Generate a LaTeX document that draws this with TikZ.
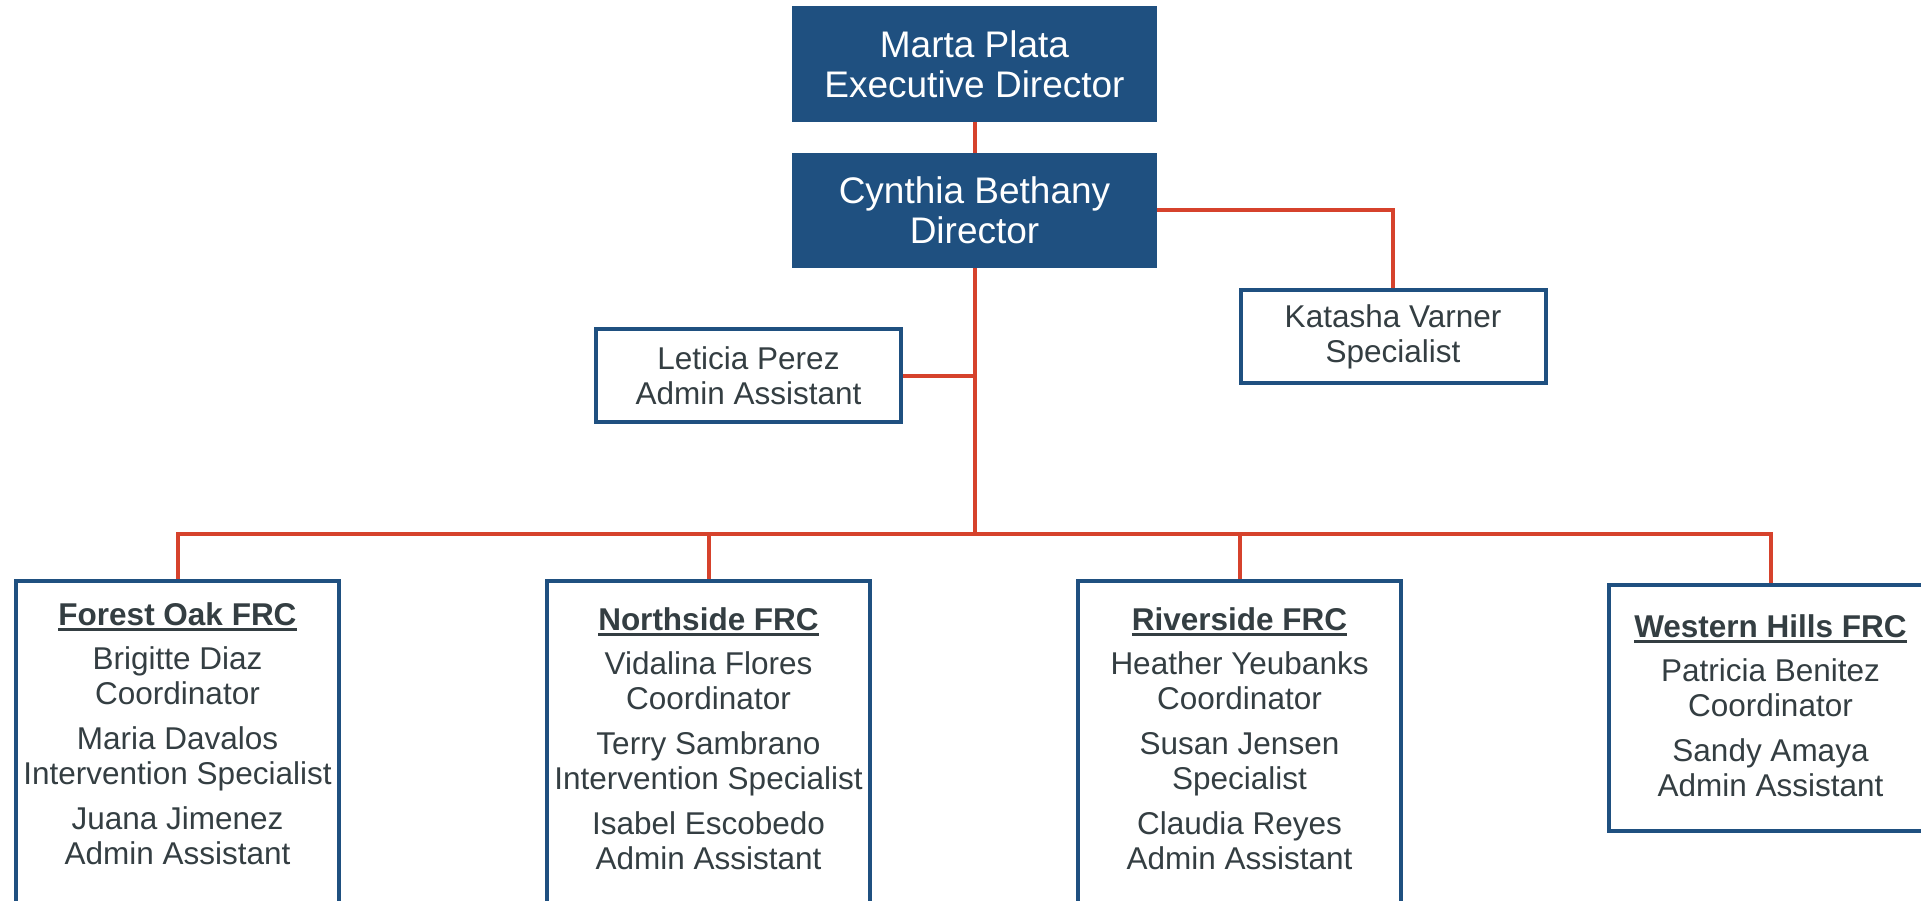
\documentclass[tikz,border=0pt]{standalone}
\usepackage{fontspec}
\setmainfont{Liberation Sans}
\usetikzlibrary{positioning,backgrounds}
\definecolor{boxblue}{RGB}{31,80,128}
\definecolor{linkred}{RGB}{214,66,44}
\definecolor{ink}{RGB}{52,62,66}
\newcommand\frcname[1]{\setbox0\hbox{\bfseries #1}\leavevmode
  \rlap{\vrule height -3pt depth 5.5pt width \wd0}\box0}
\tikzset{
  every picture/.style={x=1pt, y=-1pt},
  head/.style={
    fill=boxblue, text=white, align=center,
    minimum width=365pt, minimum height=116pt,
    font=\fontsize{37}{40}\selectfont
  },
  staff/.style={
    draw=boxblue, line width=4pt, fill=white, text=ink, align=center,
    minimum width=305pt, minimum height=93pt,
    font=\fontsize{31.5}{35}\selectfont
  },
  frcbox/.style={
    draw=boxblue, line width=4pt, fill=white,
    minimum width=323pt, anchor=north
  },
  frctext/.style={
    text=ink, align=center, inner sep=0pt,
    font=\fontsize{31.5}{35}\selectfont
  },
  link/.style={draw=linkred, line width=4pt}
}
\begin{document}
\begin{tikzpicture}
  \clip (0,0) rectangle (1921,901);
  \node[head] (marta) at (974.5,64) {Marta Plata\\Executive Director};
  \node[head, minimum height=115pt] (cynthia) at (974.5,210.5) {Cynthia Bethany\\Director};
  \node[staff] (leticia) at (748.5,375.5) {Leticia Perez\\Admin Assistant};
  \node[staff] (katasha) at (1393,336.5) {Katasha Varner\\Specialist};
  \node[frcbox, minimum height=340pt] (forest) at (177.5,579) {};
  \node[frcbox, minimum height=340pt] (northside) at (708.5,579) {};
  \node[frcbox, minimum height=340pt] (riverside) at (1239.5,579) {};
  \node[frcbox, minimum height=246pt] (western) at (1770.5,583) {};
  \node[frctext, below=23pt of forest.north] (forestlist) {\frcname{Forest Oak FRC}\\[9pt]
    Brigitte Diaz\\Coordinator\\[10pt]
    Maria Davalos\\Intervention Specialist\\[10pt]
    Juana Jimenez\\Admin Assistant};
  \node[frctext, below=28pt of northside.north] (northsidelist) {\frcname{Northside FRC}\\[9pt]
    Vidalina Flores\\Coordinator\\[10pt]
    Terry Sambrano\\Intervention Specialist\\[10pt]
    Isabel Escobedo\\Admin Assistant};
  \node[frctext, below=28pt of riverside.north] (riversidelist) {\frcname{Riverside FRC}\\[9pt]
    Heather Yeubanks\\Coordinator\\[10pt]
    Susan Jensen\\Specialist\\[10pt]
    Claudia Reyes\\Admin Assistant};
  \node[frctext, below=31pt of western.north] (westernlist) {\frcname{Western Hills FRC}\\[9pt]
    Patricia Benitez\\Coordinator\\[10pt]
    Sandy Amaya\\Admin Assistant};
  \begin{scope}[on background layer]
    \coordinate (bus) at (974.5,534);
    \draw[link] (marta) -- (cynthia);
    \draw[link] (cynthia.east) -| (katasha.north);
    \draw[link] (leticia.east) -- (leticia.east -| cynthia.south);
    \draw[link] (cynthia.south) -- (bus);
    \draw[link] (forest.north) |- (bus) -| (western.north);
    \foreach \frc in {northside,riverside}
      \draw[link] (\frc.north) -- (\frc.north |- bus);
  \end{scope}
\end{tikzpicture}
\end{document}
